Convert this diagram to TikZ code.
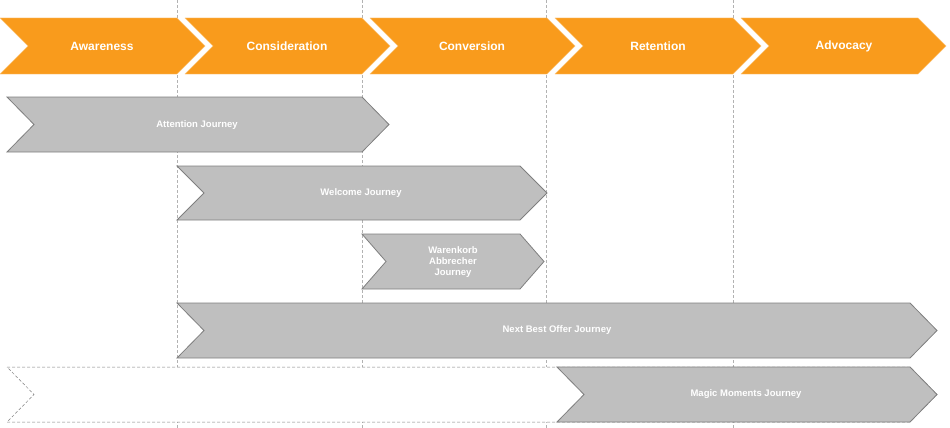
\documentclass[tikz,border=0pt]{standalone}
\usepackage{fontspec}
\setmainfont{Liberation Sans}
\usetikzlibrary{positioning}
\definecolor{phaseorange}{HTML}{F99B1C}
\definecolor{journeygray}{HTML}{BFBFBF}
\definecolor{journeyline}{HTML}{7F7F7F}
% chevron: style, left x, right x (body), top y, bottom y, notch/tip depth
\newcommand\chevshape[6]{%
  \path[#1] (#2,#4) -- (#3,#4) -- (#3+#6,{(#4+#5)/2}) -- (#3,#5) -- (#2,#5)
    -- (#2+#6,{(#4+#5)/2}) -- cycle;}
\begin{document}
\begin{tikzpicture}[x=1pt,y=-1pt,
  phase/.style={fill=phaseorange, draw=phaseorange!60, line width=0.4pt},
  journey/.style={fill=journeygray, draw=journeyline, line width=0.8pt},
  ghost/.style={fill=white, draw=journeyline, densely dashed, line width=0.5pt},
  grid/.style={draw=gray!60, densely dashed, line width=0.5pt},
  phasetext/.style={text=white, font=\bfseries\fontsize{12}{14}\selectfont},
  jtext/.style={text=white, font=\bfseries\fontsize{9.5}{11}\selectfont, align=center}
]
\useasboundingbox (0,0) rectangle (950,428);
% phase borders
\foreach \gx in {177,362,546,733}
  \draw[grid] (\gx,0) -- (\gx,428);
% phases
\chevshape{phase}{0}{177}{18}{74}{28}
\chevshape{phase}{185}{362}{18}{74}{28}
\chevshape{phase}{370}{547}{18}{74}{28}
\chevshape{phase}{555}{733}{18}{74}{28}
\chevshape{phase}{741}{918}{18}{74}{28}
\node[phasetext] (awareness) at (102,46) {Awareness};
\node[phasetext] (consideration) at (287,46) {Consideration};
\node[phasetext] (conversion) at (472,46) {Conversion};
\node[phasetext] (retention) at (658,46) {Retention};
\node[phasetext] (advocacy) at (844,46) {Advocacy};
% journeys
\chevshape{journey}{7}{362}{97}{152}{27}
\chevshape{journey}{177}{520}{166}{220}{27}
\chevshape{journey}{362}{520}{234}{289}{24}
\chevshape{journey}{177}{910}{303}{358}{27}
\chevshape{ghost}{7}{910}{367}{422}{27}
\chevshape{journey}{557}{910}{367}{422}{27}
\node[jtext] (attention) at (197,125) {Attention Journey};
\node[jtext] (welcome) at (361,193) {Welcome Journey};
\node[jtext] (warenkorb) at (453,262) {Warenkorb\\Abbrecher\\Journey};
\node[jtext] (nextbest) at (557,330) {Next Best Offer Journey};
\node[jtext] (magic) at (746,394) {Magic Moments Journey};
\end{tikzpicture}
\end{document}
